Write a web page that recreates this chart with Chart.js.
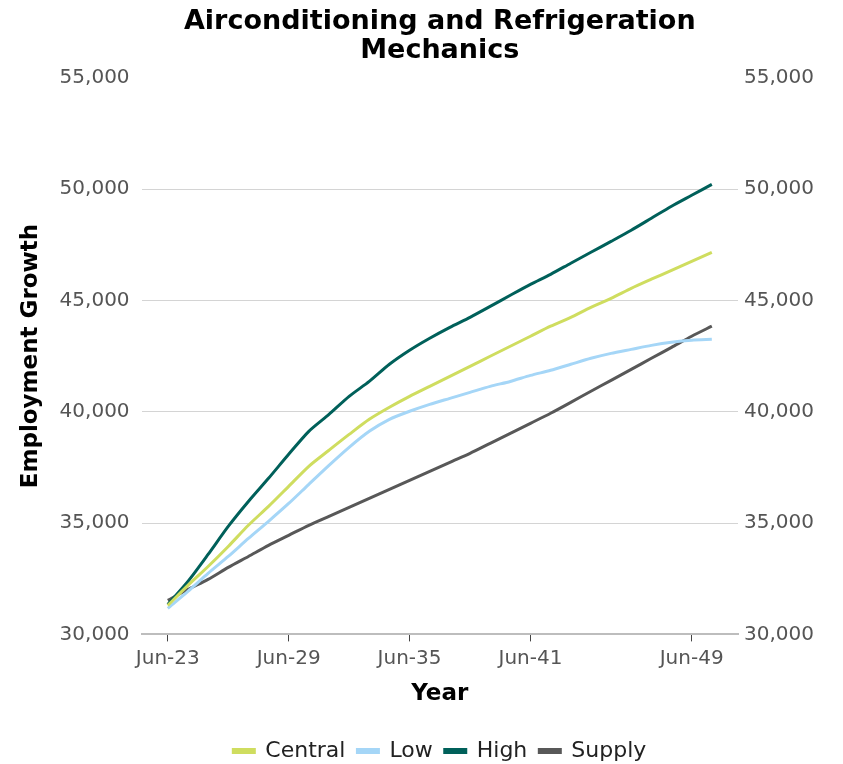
<!DOCTYPE html>
<html>
<head>
<meta charset="utf-8">
<script src="https://cdn.jsdelivr.net/npm/chart.js@4/dist/chart.umd.min.js"></script>
<style>
  html, body { margin: 0; padding: 0; background: #fff; }
  #wrap { width: 843px; height: 764px; }
</style>
</head>
<body>
<div id="wrap"><canvas id="employmentChart"></canvas></div>
<script>
// Jahre (Juni) 2023-2050
const years = [2023, 2024, 2025, 2026, 2027, 2028, 2029, 2030, 2031, 2032, 2033, 2034, 2035, 2036,
               2037, 2038, 2039, 2040, 2041, 2042, 2043, 2044, 2045, 2046, 2047, 2048, 2049, 2050];
const tickYears = [2023, 2029, 2035, 2041, 2049];
const yTicks = [30000, 35000, 40000, 45000, 50000, 55000];

const central = [31300, 32200, 33050, 33950, 34900, 35750, 36650, 37550, 38270, 38980, 39660, 40200, 40690, 41140,
                 41590, 42040, 42490, 42940, 43390, 43840, 44240, 44690, 45090, 45540, 45950, 46350, 46750, 47160];
const low = [31170, 31930, 32740, 33500, 34310, 35080, 35880, 36740, 37590, 38400, 39120, 39660, 40020, 40330,
             40600, 40870, 41140, 41360, 41630, 41860, 42130, 42400, 42620, 42800, 42980, 43120, 43210, 43250];
const high = [31350, 32380, 33590, 34850, 35970, 37010, 38090, 39120, 39880, 40690, 41360, 42130, 42760, 43300,
              43790, 44240, 44730, 45230, 45720, 46170, 46670, 47160, 47650, 48150, 48690, 49230, 49720, 50210];
const supply = [31530, 32020, 32470, 33010, 33500, 34000, 34450, 34900, 35300, 35700, 36110, 36510, 36920, 37320,
                37730, 38130, 38580, 39030, 39480, 39930, 40420, 40920, 41410, 41900, 42400, 42890, 43390, 43840];

function toPoints(values) {
    return years.map((yr, i) => ({ x: yr, y: values[i] }));
}

function serie(label, values, color) {
    return {
        label: label,
        data: toPoints(values),
        borderColor: color,
        backgroundColor: color,
        borderWidth: 3,
        pointRadius: 0,
        tension: 0.25
    };
}

// Titel und Legende über der Zeichenfläche zentrieren
const centerOnArea = {
    id: 'centerOnArea',
    afterLayout(chart) {
        const a = chart.chartArea;
        [chart.titleBlock, chart.legend].forEach(b => {
            if (b) {
                b.left = a.left;
                b.right = a.right;
                b.width = a.right - a.left;
            }
        });
    }
};

const fontFam = "'DejaVu Sans', sans-serif";
const tickFont = { family: fontFam, size: 20 };
const nf = new Intl.NumberFormat('en-US');

const ctx = document.getElementById('employmentChart').getContext('2d');
const employmentChart = new Chart(ctx, {
    type: 'line',
    data: {
        datasets: [
            serie('Central', central, '#cfdd5f'),
            serie('Low', low, '#a5d6f7'),
            serie('High', high, '#00605a'),
            serie('Supply', supply, '#585858')
        ]
    },
    plugins: [centerOnArea],
    options: {
        responsive: true,
        maintainAspectRatio: false,
        animation: false,
        layout: { padding: { left: 17, right: 23, top: 0, bottom: -8 } },
        plugins: {
            title: {
                display: true,
                text: ['Airconditioning and Refrigeration', 'Mechanics'],
                color: '#000',
                font: { family: fontFam, size: 27, weight: 'bold', lineHeight: 1.05 },
                padding: { top: 8, bottom: 13 }
            },
            legend: {
                position: 'bottom',
                labels: {
                    color: '#222',
                    font: { family: fontFam, size: 22 },
                    boxWidth: 21,
                    boxHeight: 3,
                    padding: 12
                }
            },
            tooltip: { enabled: false }
        },
        scales: {
            x: {
                type: 'linear',
                min: 2021.7,
                max: 2051.3,
                afterBuildTicks: (axis) => {
                    axis.ticks = tickYears.map(v => ({ value: v }));
                },
                ticks: {
                    color: '#555',
                    font: tickFont,
                    maxRotation: 0,
                    padding: 5,
                    callback: (v) => 'Jun-' + String(v).slice(2)
                },
                grid: {
                    drawOnChartArea: false,
                    drawTicks: true,
                    tickLength: 7,
                    color: '#444'
                },
                border: { color: '#bdbdbd', width: 2 },
                title: {
                    display: true,
                    text: 'Year',
                    color: '#000',
                    font: { family: fontFam, size: 23, weight: 'bold' },
                    padding: { top: 5, bottom: 20 }
                }
            },
            y: {
                position: 'left',
                min: 30000,
                max: 55000,
                afterBuildTicks: (axis) => {
                    axis.ticks = yTicks.map(v => ({ value: v }));
                },
                ticks: {
                    color: '#555',
                    font: tickFont,
                    padding: 12,
                    callback: (v) => nf.format(v)
                },
                grid: {
                    drawTicks: false,
                    color: (c) => (c.tick && c.tick.value === 55000) ? 'rgba(0,0,0,0)' : '#d4d4d4'
                },
                border: { display: false },
                title: {
                    display: true,
                    text: 'Employment Growth',
                    color: '#000',
                    font: { family: fontFam, size: 23, weight: 'bold' },
                    padding: { top: 0, bottom: 3 }
                }
            },
            y2: {
                position: 'right',
                min: 30000,
                max: 55000,
                afterBuildTicks: (axis) => {
                    axis.ticks = yTicks.map(v => ({ value: v }));
                },
                ticks: {
                    color: '#555',
                    font: tickFont,
                    padding: 6,
                    callback: (v) => nf.format(v)
                },
                grid: { drawOnChartArea: false, drawTicks: false },
                border: { display: false }
            }
        }
    }
});
</script>
</body>
</html>
